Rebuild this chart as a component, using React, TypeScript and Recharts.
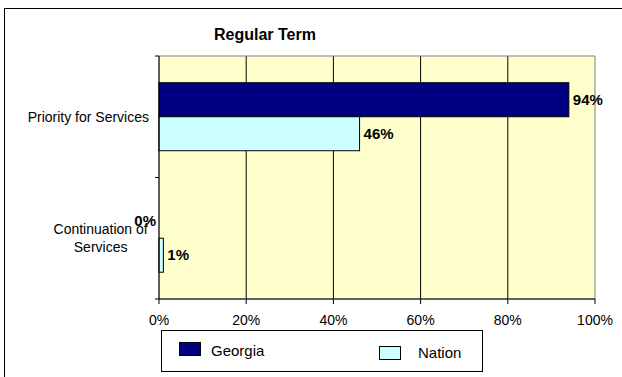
import React from "react";
import {
  Bar,
  BarChart,
  CartesianGrid,
  ReferenceArea,
  XAxis,
  YAxis,
} from "recharts";

const categories = ["Priority for Services", "Continuation of Services"];
const categoryLines = [["Priority for Services"], ["Continuation of", "Services"]];
const georgia = [0.94, 0];
const nation = [0.46, 0.01];
const xTicks = [0, 0.2, 0.4, 0.6, 0.8, 1];
const gridValues = [0.2, 0.4, 0.6, 0.8];

const series = [
  { key: "georgia", name: "Georgia", fill: "#000080" },
  { key: "nation", name: "Nation", fill: "#CCFFFF" },
];

const rows = categories.map((name, i) => ({
  name,
  georgia: georgia[i],
  nation: nation[i],
}));

const FONT = "'Liberation Sans', Arial, sans-serif";
const W = 622;
const H = 377;
const M = { top: 56, right: 27, bottom: 48, left: 0 };
const YAXIS_W = 159;
const XAXIS_H = 30;
const plotH = H - M.top - M.bottom - XAXIS_H;
const band = plotH / categories.length;

const pct = (v: number) => `${Math.round(v * 100)}%`;

function CategoryTick({ y, index }: { y?: number; index?: number }) {
  const cy = y ?? 0;
  const i = index ?? 0;
  const lines = categoryLines[i] ?? [categories[i]];
  const right = YAXIS_W - 10;
  const longest = Math.max(...lines.map((l) => l.length));
  const cx = right - (longest * 6.45) / 2;
  const lh = 18;
  const first = cy - ((lines.length - 1) * lh) / 2;
  return (
    <g>
      <line x1={YAXIS_W - 4} x2={YAXIS_W} y1={cy - band / 2} y2={cy - band / 2} stroke="#000" />
      {i === categories.length - 1 && (
        <line x1={YAXIS_W - 4} x2={YAXIS_W} y1={cy + band / 2} y2={cy + band / 2} stroke="#000" />
      )}
      {lines.map((l, k) => (
        <text
          key={k}
          x={lines.length > 1 ? cx : right}
          y={first + k * lh}
          dy="0.35em"
          textAnchor={lines.length > 1 ? "middle" : "end"}
          fontSize={14}
          fontFamily={FONT}
          fill="#000"
        >
          {l}
        </text>
      ))}
    </g>
  );
}

// bar rect plus its value label; zero bars only get the label
function BarWithLabel(props: any) {
  const { x, y, width, height, fill, value } = props;
  const v = Array.isArray(value) ? value[1] - value[0] : value;
  const zero = !v;
  return (
    <g>
      {!zero && (
        <rect x={x} y={y} width={width} height={height} fill={fill} stroke="#000" strokeWidth={1} />
      )}
      <text
        x={zero ? x - 3 : x + width + 4}
        y={y + height / 2}
        dy="0.35em"
        textAnchor={zero ? "end" : "start"}
        fontSize={15}
        fontWeight="bold"
        fontFamily={FONT}
        fill="#000"
      >
        {pct(v)}
      </text>
    </g>
  );
}

function LegendBox() {
  const swatchLeft = [17, 217];
  const swatchTop = [11, 15];
  const textLeft = [49, 256];
  const textTop = [11, 13];
  return (
    <div
      style={{
        position: "absolute",
        left: 161,
        top: 330,
        width: 322,
        height: 42,
        border: "1px solid #000",
        background: "#fff",
        fontFamily: FONT,
        fontSize: 15,
        boxSizing: "border-box",
      }}
    >
      {series.map((s, i) => (
        <div key={s.key}>
          <div
            style={{
              position: "absolute",
              left: swatchLeft[i],
              top: swatchTop[i],
              width: 22,
              height: 14,
              background: s.fill,
              border: "1px solid #000",
              boxSizing: "border-box",
            }}
          />
          <div
            style={{
              position: "absolute",
              left: textLeft[i],
              top: textTop[i],
              lineHeight: "17px",
            }}
          >
            {s.name}
          </div>
        </div>
      ))}
    </div>
  );
}

export default function App() {
  return (
    <div
      style={{
        position: "absolute",
        left: 0,
        top: 0,
        width: W,
        height: H,
        background: "#fff",
        overflow: "hidden",
        fontFamily: FONT,
      }}
    >
      <div
        style={{
          position: "absolute",
          left: 4,
          top: 8,
          width: W,
          height: H,
          borderLeft: "1px solid #000",
          borderTop: "1px solid #000",
        }}
      />
      <div
        style={{
          position: "absolute",
          left: 165,
          width: 200,
          top: 26,
          textAlign: "center",
          fontSize: 16,
          fontWeight: "bold",
          lineHeight: "18px",
        }}
      >
        Regular Term
      </div>
      <div style={{ position: "absolute", left: 0, top: 0 }}>
        <BarChart
          width={W}
          height={H}
          data={rows}
          layout="vertical"
          margin={M}
          barGap={0}
          barCategoryGap="22%"
        >
          <CartesianGrid
            horizontal={false}
            verticalValues={gridValues}
            stroke="#000"
            fill="#FFFFCC"
          />
          <ReferenceArea x1={0} x2={1} stroke="#808080" fill="none" ifOverflow="visible" />
          <XAxis
            type="number"
            domain={[0, 1]}
            ticks={xTicks}
            tickFormatter={pct}
            height={XAXIS_H}
            stroke="#000"
            tickSize={5}
            tickMargin={11}
            tick={{ fontSize: 14, fontFamily: FONT, fill: "#000" }}
            interval={0}
          />
          <YAxis
            type="category"
            dataKey="name"
            width={YAXIS_W}
            stroke="#000"
            tickLine={false}
            tick={<CategoryTick />}
            interval={0}
          />
          {series.map((s) => (
            <Bar
              key={s.key}
              dataKey={s.key}
              name={s.name}
              fill={s.fill}
              shape={<BarWithLabel />}
              isAnimationActive={false}
            />
          ))}
        </BarChart>
      </div>
      <LegendBox />
    </div>
  );
}
